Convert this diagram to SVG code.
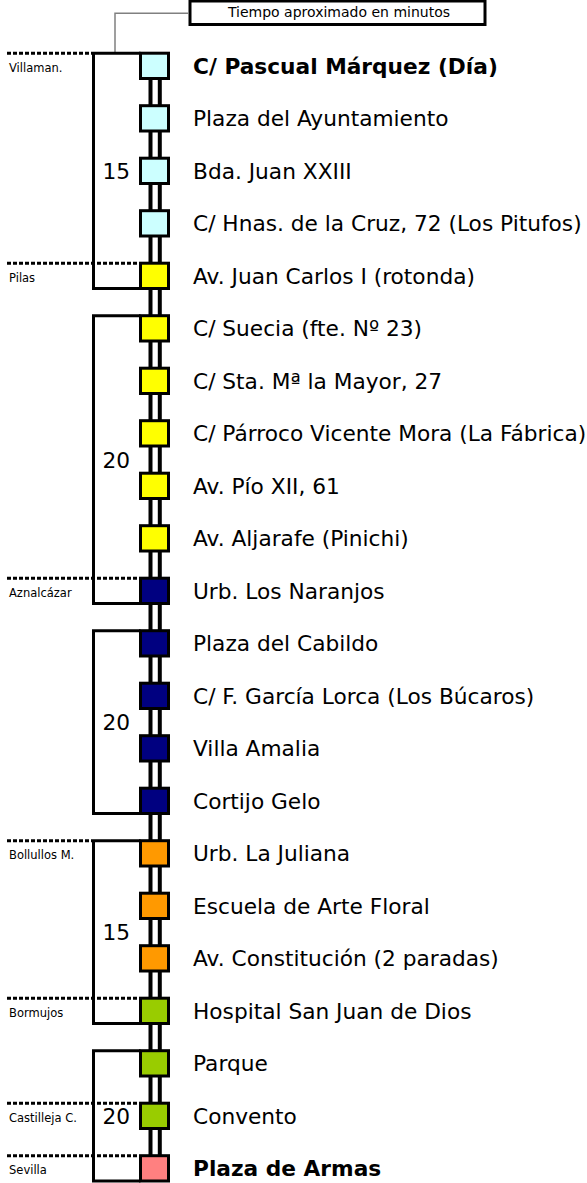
<svg xmlns="http://www.w3.org/2000/svg" width="587" height="1183" viewBox="0 0 587 1183">
<style>
.st{font-family:"DejaVu Sans","Verdana",sans-serif;font-size:21.7px;fill:#000}
.b{font-weight:bold}
.loc{font-family:"DejaVu Sans","Verdana",sans-serif;font-size:11.5px;fill:#000}
.min{font-family:"DejaVu Sans","Verdana",sans-serif;font-size:21.7px;fill:#000;text-anchor:end}
.sq{stroke:#000;stroke-width:3}
.br{fill:none;stroke:#000;stroke-width:3}
.dot{fill:none;stroke:#000;stroke-width:3;stroke-dasharray:4 2}
.rail{stroke:#000;stroke-width:4}
</style>
<rect width="587" height="1183" fill="#fff"/>
<g id="connectors">
<path d="M188,13.3 H115 V52" fill="none" stroke="#808080" stroke-width="1.5"/>
<line class="rail" x1="150.5" y1="66" x2="150.5" y2="1170"/>
<line class="rail" x1="159.8" y1="66" x2="159.8" y2="1170"/>
<path class="br" d="M140.5,53.2 H93.5 V288.5 H140.5"/>
<path class="br" d="M140.5,315.7 H93.5 V603.5 H140.5"/>
<path class="br" d="M140.5,630.7 H93.5 V813.5 H140.5"/>
<path class="br" d="M140.5,840.7 H93.5 V1023.5 H140.5"/>
<path class="br" d="M140.5,1050.7 H93.5 V1181 H140.5"/>
<line class="dot" x1="7" y1="53.2" x2="92" y2="53.2"/>
<line class="dot" x1="7" y1="263.2" x2="137" y2="263.2"/>
<line class="dot" x1="7" y1="578.2" x2="137" y2="578.2"/>
<line class="dot" x1="7" y1="840.7" x2="92" y2="840.7"/>
<line class="dot" x1="7" y1="998.2" x2="137" y2="998.2"/>
<line class="dot" x1="7" y1="1103.2" x2="137" y2="1103.2"/>
<line class="dot" x1="7" y1="1155.7" x2="137" y2="1155.7"/>
</g>
<g id="title">
<rect x="190" y="1" width="295" height="23.5" fill="#fff" stroke="#000" stroke-width="3"/>
<text x="339" y="17" font-family="DejaVu Sans, Verdana, sans-serif" font-size="14" text-anchor="middle">Tiempo aproximado en minutos</text>
</g>
<g id="locations">
<text class="loc" x="9" y="71.7">Villaman.</text>
<text class="loc" x="9" y="281.7">Pilas</text>
<text class="loc" x="9" y="596.7">Aznalcázar</text>
<text class="loc" x="9" y="859.2">Bollullos M.</text>
<text class="loc" x="9" y="1016.7">Bormujos</text>
<text class="loc" x="9" y="1121.7">Castilleja C.</text>
<text class="loc" x="9" y="1174.2">Sevilla</text>
</g>
<g id="minutes">
<text class="min" x="130" y="178.9">15</text>
<text class="min" x="130" y="467.6">20</text>
<text class="min" x="130" y="730.1">20</text>
<text class="min" x="130" y="940.1">15</text>
<text class="min" x="130" y="1123.9">20</text>
</g>
<g id="stop0"><rect class="sq" x="140.5" y="53.2" width="28" height="25.3" fill="#CCFFFF"/><text class="st b" x="193" y="73.9">C/ Pascual Márquez (Día)</text></g>
<g id="stop1"><rect class="sq" x="140.5" y="105.7" width="28" height="25.3" fill="#CCFFFF"/><text class="st" x="193" y="126.4">Plaza del Ayuntamiento</text></g>
<g id="stop2"><rect class="sq" x="140.5" y="158.2" width="28" height="25.3" fill="#CCFFFF"/><text class="st" x="193" y="178.9">Bda. Juan XXIII</text></g>
<g id="stop3"><rect class="sq" x="140.5" y="210.7" width="28" height="25.3" fill="#CCFFFF"/><text class="st" x="193" y="231.4">C/ Hnas. de la Cruz, 72 (Los Pitufos)</text></g>
<g id="stop4"><rect class="sq" x="140.5" y="263.2" width="28" height="25.3" fill="#FFFF00"/><text class="st" x="193" y="283.9">Av. Juan Carlos I (rotonda)</text></g>
<g id="stop5"><rect class="sq" x="140.5" y="315.7" width="28" height="25.3" fill="#FFFF00"/><text class="st" x="193" y="336.4">C/ Suecia (fte. Nº 23)</text></g>
<g id="stop6"><rect class="sq" x="140.5" y="368.2" width="28" height="25.3" fill="#FFFF00"/><text class="st" x="193" y="388.9">C/ Sta. Mª la Mayor, 27</text></g>
<g id="stop7"><rect class="sq" x="140.5" y="420.7" width="28" height="25.3" fill="#FFFF00"/><text class="st" x="193" y="441.4">C/ Párroco Vicente Mora (La Fábrica)</text></g>
<g id="stop8"><rect class="sq" x="140.5" y="473.2" width="28" height="25.3" fill="#FFFF00"/><text class="st" x="193" y="493.9">Av. Pío XII, 61</text></g>
<g id="stop9"><rect class="sq" x="140.5" y="525.7" width="28" height="25.3" fill="#FFFF00"/><text class="st" x="193" y="546.4">Av. Aljarafe (Pinichi)</text></g>
<g id="stop10"><rect class="sq" x="140.5" y="578.2" width="28" height="25.3" fill="#000080"/><text class="st" x="193" y="598.9">Urb. Los Naranjos</text></g>
<g id="stop11"><rect class="sq" x="140.5" y="630.7" width="28" height="25.3" fill="#000080"/><text class="st" x="193" y="651.4">Plaza del Cabildo</text></g>
<g id="stop12"><rect class="sq" x="140.5" y="683.2" width="28" height="25.3" fill="#000080"/><text class="st" x="193" y="703.9">C/ F. García Lorca (Los Búcaros)</text></g>
<g id="stop13"><rect class="sq" x="140.5" y="735.7" width="28" height="25.3" fill="#000080"/><text class="st" x="193" y="756.4">Villa Amalia</text></g>
<g id="stop14"><rect class="sq" x="140.5" y="788.2" width="28" height="25.3" fill="#000080"/><text class="st" x="193" y="808.9">Cortijo Gelo</text></g>
<g id="stop15"><rect class="sq" x="140.5" y="840.7" width="28" height="25.3" fill="#FF9900"/><text class="st" x="193" y="861.4">Urb. La Juliana</text></g>
<g id="stop16"><rect class="sq" x="140.5" y="893.2" width="28" height="25.3" fill="#FF9900"/><text class="st" x="193" y="913.9">Escuela de Arte Floral</text></g>
<g id="stop17"><rect class="sq" x="140.5" y="945.7" width="28" height="25.3" fill="#FF9900"/><text class="st" x="193" y="966.4">Av. Constitución (2 paradas)</text></g>
<g id="stop18"><rect class="sq" x="140.5" y="998.2" width="28" height="25.3" fill="#99CC00"/><text class="st" x="193" y="1018.9">Hospital San Juan de Dios</text></g>
<g id="stop19"><rect class="sq" x="140.5" y="1050.7" width="28" height="25.3" fill="#99CC00"/><text class="st" x="193" y="1071.4">Parque</text></g>
<g id="stop20"><rect class="sq" x="140.5" y="1103.2" width="28" height="25.3" fill="#99CC00"/><text class="st" x="193" y="1123.9">Convento</text></g>
<g id="stop21"><rect class="sq" x="140.5" y="1155.7" width="28" height="25.3" fill="#FF8080"/><text class="st b" x="193" y="1176.4">Plaza de Armas</text></g>
</svg>
